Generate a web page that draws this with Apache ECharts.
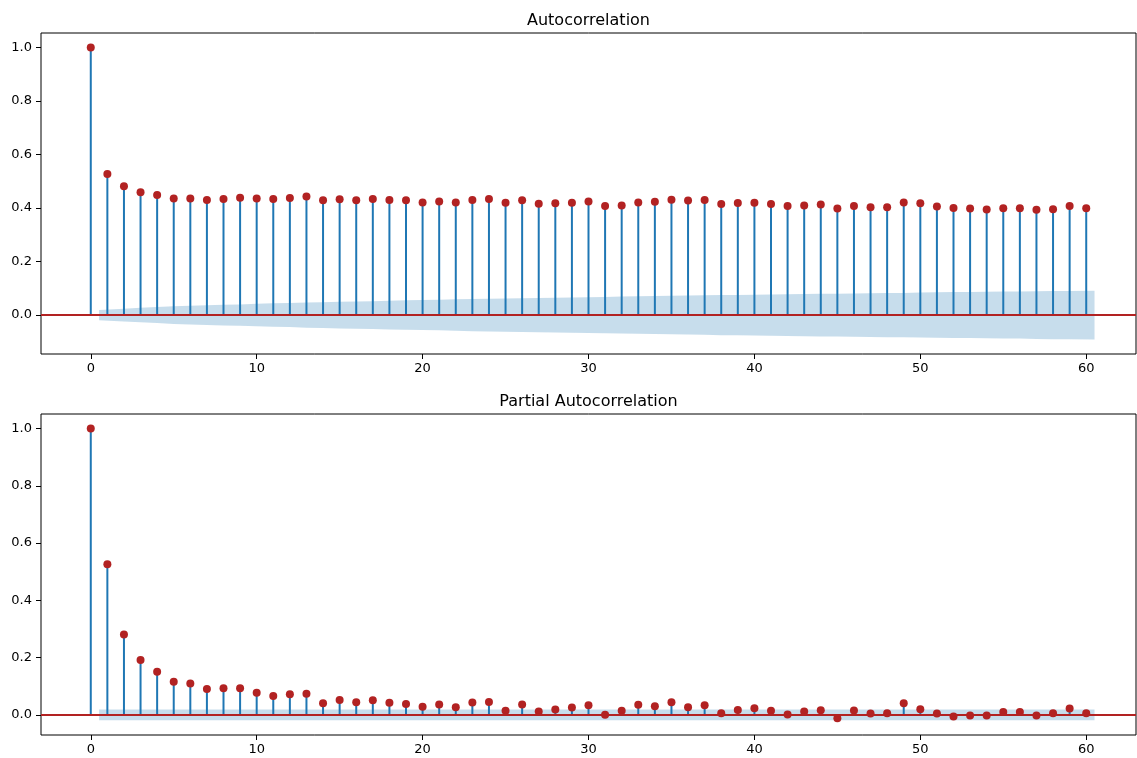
<!DOCTYPE html>
<html>
<head>
<meta charset="utf-8">
<script src="https://cdn.jsdelivr.net/npm/echarts@6/dist/echarts.min.js"></script>
<style>
html,body{margin:0;padding:0;background:#fff;}
#chart{width:1137px;height:758px;}
</style>
</head>
<body>
<div id="chart"></div>
<script>
// ---- data ----
const lags = [0,1,2,3,4,5,6,7,8,9,10,11,12,13,14,15,16,17,18,19,20,21,22,23,24,25,26,27,28,29,30,
  31,32,33,34,35,36,37,38,39,40,41,42,43,44,45,46,47,48,49,50,51,52,53,54,55,56,57,58,59,60];

const acfValues = [1.0,
  0.527,0.482,0.459,0.449,0.436,0.436,0.430,0.434,0.439,0.436,
  0.434,0.438,0.443,0.429,0.433,0.429,0.434,0.430,0.429,0.421,
  0.425,0.421,0.430,0.434,0.420,0.429,0.416,0.418,0.420,0.425,
  0.408,0.410,0.421,0.424,0.431,0.428,0.430,0.415,0.419,0.420,
  0.415,0.408,0.410,0.413,0.398,0.408,0.403,0.403,0.421,0.418,
  0.406,0.400,0.398,0.395,0.399,0.399,0.394,0.396,0.408,0.399];

// half-width of the ACF confidence band at lags 1..60
const acfBand = [
  0.019,0.024,0.027,0.030,0.033,0.035,0.037,0.039,0.040,0.042,
  0.044,0.045,0.047,0.048,0.050,0.051,0.052,0.054,0.055,0.056,
  0.057,0.059,0.060,0.061,0.062,0.063,0.064,0.065,0.066,0.067,
  0.068,0.069,0.070,0.071,0.072,0.073,0.074,0.075,0.075,0.076,
  0.077,0.078,0.079,0.080,0.080,0.081,0.082,0.083,0.083,0.084,
  0.085,0.086,0.086,0.087,0.088,0.088,0.089,0.090,0.090,0.091];

const pacfValues = [1.0,
  0.526,0.281,0.192,0.151,0.116,0.110,0.090,0.093,0.093,0.077,
  0.066,0.072,0.074,0.041,0.052,0.044,0.051,0.042,0.038,0.028,
  0.036,0.027,0.043,0.045,0.014,0.036,0.012,0.019,0.026,0.034,
  0.000,0.014,0.035,0.030,0.044,0.027,0.034,0.006,0.017,0.023,
  0.014,0.001,0.012,0.016,-0.012,0.015,0.005,0.006,0.041,0.020,
  0.005,-0.006,-0.002,-0.002,0.010,0.010,-0.002,0.006,0.022,0.006];

// half-width of the PACF confidence band (same at every lag 1..60)
const pacfBandHalf = 0.019;

const xTicks = [0,10,20,30,40,50,60];
const yTicks = [0,0.2,0.4,0.6,0.8,1.0];
const titles = ['Autocorrelation','Partial Autocorrelation'];

// ---- styling ----
const STEM = '#1f77b4';
const RED = '#b22222';
const BAND = 'rgba(31,119,180,0.25)';
const FONT = 'DejaVu Sans';

const chart = echarts.init(document.getElementById('chart'), null, {renderer:'canvas'});

function bandPoints(halfArr) {
  // band drawn over lags 1..60, first point shifted to 0.5 and last to 60.5
  const xs = lags.slice(1).map((l, i, a) => i === 0 ? l - 0.5 : (i === a.length - 1 ? l + 0.5 : l));
  return xs.map((x, i) => [x, halfArr[i]]);
}

const acfBandPts = bandPoints(acfBand);
const pacfBandPts = bandPoints(lags.slice(1).map(() => pacfBandHalf));

function bandSeries(idx, pts) {
  return {
    type: 'custom',
    xAxisIndex: idx, yAxisIndex: idx,
    z: 1,
    silent: true,
    data: pts,
    renderItem: function (params, api) {
      if (params.dataIndex !== 0) return null;
      const upper = pts.map(p => api.coord([p[0], p[1]]));
      const lower = pts.slice().reverse().map(p => api.coord([p[0], -p[1]]));
      return {
        type: 'polygon',
        shape: { points: upper.concat(lower) },
        style: { fill: BAND, stroke: null }
      };
    }
  };
}

function stemSeries(idx, vals) {
  return {
    type: 'custom',
    xAxisIndex: idx, yAxisIndex: idx,
    z: 2,
    silent: true,
    data: lags.map((l, i) => [l, vals[i]]),
    renderItem: function (params, api) {
      const p0 = api.coord([api.value(0), 0]);
      const p1 = api.coord([api.value(0), api.value(1)]);
      return {
        type: 'line',
        shape: { x1: p0[0], y1: p0[1], x2: p1[0], y2: p1[1] },
        style: { stroke: STEM, lineWidth: 2 }
      };
    }
  };
}

function dotSeries(idx, vals) {
  return {
    type: 'scatter',
    xAxisIndex: idx, yAxisIndex: idx,
    z: 4,
    silent: true,
    symbol: 'circle',
    symbolSize: 8,
    itemStyle: { color: RED, opacity: 1 },
    data: lags.map((l, i) => [l, vals[i]]),
    markLine: {
      silent: true,
      symbol: ['none', 'none'],
      label: { show: false },
      lineStyle: { color: RED, width: 2, type: 'solid' },
      z: 3,
      data: [{ yAxis: 0 }]
    }
  };
}

const gridTops = [33, 414];
const yMin = [-0.1455, -0.0703];
const yMax = [1.0545, 1.0509];

const option = {
  animation: false,
  backgroundColor: '#fff',
  title: titles.map((t, i) => ({
    text: t,
    left: 588.5,
    textAlign: 'center',
    top: gridTops[i] - 20,
    padding: 0,
    textStyle: { fontFamily: FONT, fontSize: 16, fontWeight: 'normal', color: '#000' }
  })),
  grid: gridTops.map(t => ({
    left: 41, top: t, width: 1095, height: 321,
    show: true, borderColor: '#000', borderWidth: 1, backgroundColor: 'transparent'
  })),
  xAxis: gridTops.map((t, i) => ({
    type: 'value', gridIndex: i, min: -3, max: 63, position: 'bottom',
    axisLine: { show: false, onZero: false },
    splitLine: { show: false },
    axisTick: { show: true, inside: false, length: 5, lineStyle: { color: '#000', width: 1 }, customValues: xTicks },
    axisLabel: { show: true, margin: 8, fontFamily: FONT, fontSize: 13, color: '#000', customValues: xTicks, formatter: v => String(v) }
  })),
  yAxis: gridTops.map((t, i) => ({
    type: 'value', gridIndex: i, min: yMin[i], max: yMax[i], position: 'left',
    axisLine: { show: false, onZero: false },
    splitLine: { show: false },
    axisTick: { show: true, inside: false, length: 5, lineStyle: { color: '#000', width: 1 }, customValues: yTicks },
    axisLabel: { show: true, margin: 9, fontFamily: FONT, fontSize: 13, color: '#000', customValues: yTicks, formatter: v => v.toFixed(1) }
  })),
  series: [
    bandSeries(0, acfBandPts),
    stemSeries(0, acfValues),
    dotSeries(0, acfValues),
    bandSeries(1, pacfBandPts),
    stemSeries(1, pacfValues),
    dotSeries(1, pacfValues)
  ]
};

chart.setOption(option);
</script>
</body>
</html>
